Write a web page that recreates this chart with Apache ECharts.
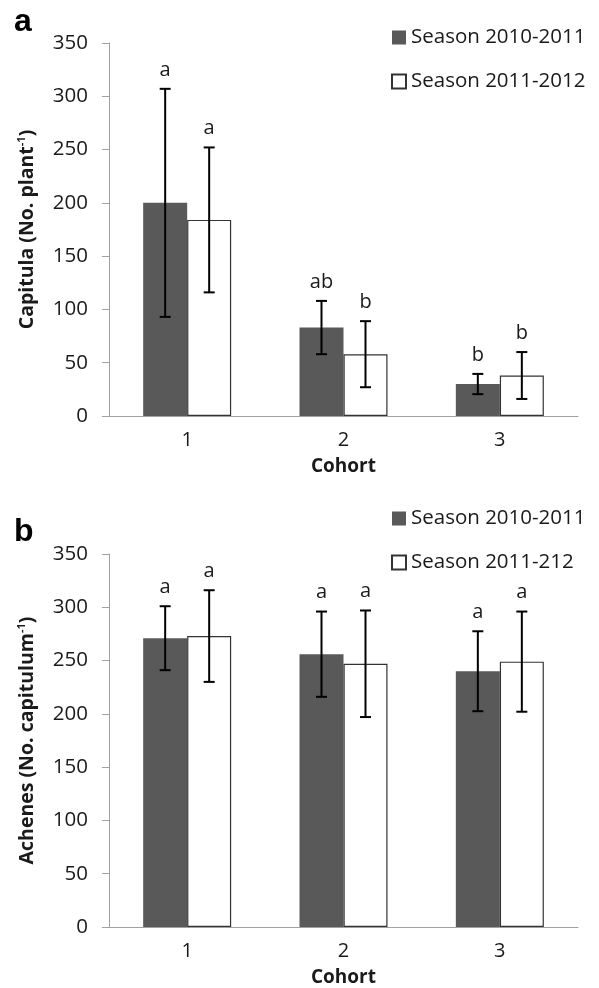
<!DOCTYPE html>
<html>
<head>
<meta charset="utf-8">
<script src="https://cdn.jsdelivr.net/npm/echarts@6/dist/echarts.min.js"></script>
<style>
html,body{margin:0;padding:0;background:#fff;}
#c{width:599px;height:988px;}
</style>
</head>
<body>
<div id="c"></div>
<script>
// ---- data ----
const cohorts = ['1', '2', '3'];
const yTicks = [0, 50, 100, 150, 200, 250, 300, 350];
const seriesNamesA = ['Season 2010-2011', 'Season 2011-2012'];
const seriesNamesB = ['Season 2010-2011', 'Season 2011-212'];
// Panel a: Capitula (No. plant-1)
const capitula1011 = [200, 83, 30];
const capitula1011Err = [107, 25, 9.5];
const capitula1112 = [184, 58, 38];
const capitula1112Err = [68, 31, 22];
const capitulaLetters1011 = ['a', 'ab', 'b'];
const capitulaLetters1112 = ['a', 'b', 'b'];
// Panel b: Achenes (No. capitulum-1)
const achenes1011 = [271, 256, 240];
const achenes1011Err = [30, 40, 37.5];
const achenes1112 = [273, 247, 249];
const achenes1112Err = [43, 50, 47];
const achenesLetters1011 = ['a', 'a', 'a'];
const achenesLetters1112 = ['a', 'a', 'a'];

// ---- style ----
const FONT = '"Open Sans", "Noto Sans", sans-serif';
const DARK = '#595959';
const AXIS = '#a0a0a0';
const TXT = '#1a1a1a';
const BAR_W = 44;

const chart = echarts.init(document.getElementById('c'), null, {renderer: 'canvas'});

function errSeries(gridIdx, means, errs, letters, offset) {
  return {
    type: 'custom',
    xAxisIndex: gridIdx,
    yAxisIndex: gridIdx,
    z: 5,
    silent: true,
    clip: false,
    data: means.map((m, i) => [i, m, errs[i]]),
    renderItem: function (params, api) {
      const i = api.value(0), m = api.value(1), e = api.value(2);
      const c = api.coord([i, m]);
      const x = c[0] + offset;
      const yt = api.coord([i, m + e])[1];
      const yb = api.coord([i, m - e])[1];
      const cap = 5.5;
      const ls = {stroke: '#000', lineWidth: 2};
      return {
        type: 'group',
        children: [
          {type: 'line', shape: {x1: x, y1: yt, x2: x, y2: yb}, style: ls},
          {type: 'line', shape: {x1: x - cap, y1: yt, x2: x + cap, y2: yt}, style: ls},
          {type: 'line', shape: {x1: x - cap, y1: yb, x2: x + cap, y2: yb}, style: ls},
          {type: 'text', style: {text: letters[params.dataIndex], x: x, y: yt - 19,
            align: 'center', verticalAlign: 'middle', fill: TXT,
            font: '20px ' + FONT}}
        ]
      };
    }
  };
}

function xAxis(gridIdx) {
  return {
    type: 'category', gridIndex: gridIdx, data: cohorts,
    axisLine: {lineStyle: {color: AXIS, width: 1}},
    axisTick: {show: false},
    axisLabel: {color: TXT, fontSize: 20, fontFamily: FONT, margin: 14},
    name: 'Cohort', nameLocation: 'middle', nameGap: 41,
    nameTextStyle: {color: TXT, fontSize: 19, fontWeight: 'bold', fontFamily: FONT}
  };
}

function yAxis(gridIdx, main) {
  return {
    type: 'value', gridIndex: gridIdx, min: 0, max: 350, interval: 50,
    axisLine: {show: true, lineStyle: {color: AXIS, width: 1}},
    axisTick: {show: true, length: 7, lineStyle: {color: AXIS}},
    splitLine: {show: false},
    axisLabel: {color: TXT, fontSize: 20.5, fontFamily: FONT, margin: 21,
      formatter: v => yTicks.includes(v) ? String(v) : ''},
    name: '{t|' + main + '}{s|-1}{t|)}',
    nameLocation: 'middle', nameGap: 71, nameRotate: 90,
    nameTextStyle: {
      rich: {
        t: {fontSize: 19.5, fontWeight: 'bold', fontFamily: FONT, color: TXT, lineHeight: 22},
        s: {fontSize: 11, fontWeight: 'bold', fontFamily: FONT, color: TXT, verticalAlign: 'top', lineHeight: 12}
      }
    }
  };
}

function bar(gridIdx, name, data, dark) {
  return {
    type: 'bar', name: name, xAxisIndex: gridIdx, yAxisIndex: gridIdx,
    data: data, barWidth: BAR_W, barGap: '0%',
    itemStyle: dark ? {color: DARK, borderWidth: 0}
                    : {color: '#fff', borderColor: '#333', borderWidth: 1.2},
    silent: true
  };
}

function legend(top, names) {
  return {
    data: names, left: 386, top: top, orient: 'vertical',
    icon: 'rect', itemWidth: 14, itemHeight: 14, itemGap: 23,
    selectedMode: false,
    textStyle: {color: TXT, fontSize: 20.5, fontFamily: FONT, lineHeight: 20}
  };
}

const option = {
  animation: false,
  backgroundColor: '#fff',
  grid: [
    {left: 109, right: 21, top: 43, height: 373},
    {left: 109, right: 21, top: 554, height: 374}
  ],
  legend: [legend(22, seriesNamesA), legend(503, seriesNamesB)],
  xAxis: [xAxis(0), xAxis(1)],
  yAxis: [yAxis(0, 'Capitula (No. plant'), yAxis(1, 'Achenes (No. capitulum')],
  graphic: [
    {type: 'text', left: 14, top: 6, style: {text: 'a', font: 'bold 32px "Liberation Sans", Arial, sans-serif', fill: '#000'}},
    {type: 'text', left: 14, top: 516, style: {text: 'b', font: 'bold 32px "Liberation Sans", Arial, sans-serif', fill: '#000'}}
  ],
  series: [
    bar(0, seriesNamesA[0], capitula1011, true),
    bar(0, seriesNamesA[1], capitula1112, false),
    errSeries(0, capitula1011, capitula1011Err, capitulaLetters1011, -BAR_W / 2),
    errSeries(0, capitula1112, capitula1112Err, capitulaLetters1112, BAR_W / 2),
    bar(1, seriesNamesB[0], achenes1011, true),
    bar(1, seriesNamesB[1], achenes1112, false),
    errSeries(1, achenes1011, achenes1011Err, achenesLetters1011, -BAR_W / 2),
    errSeries(1, achenes1112, achenes1112Err, achenesLetters1112, BAR_W / 2)
  ]
};
chart.setOption(option);
</script>
</body>
</html>
